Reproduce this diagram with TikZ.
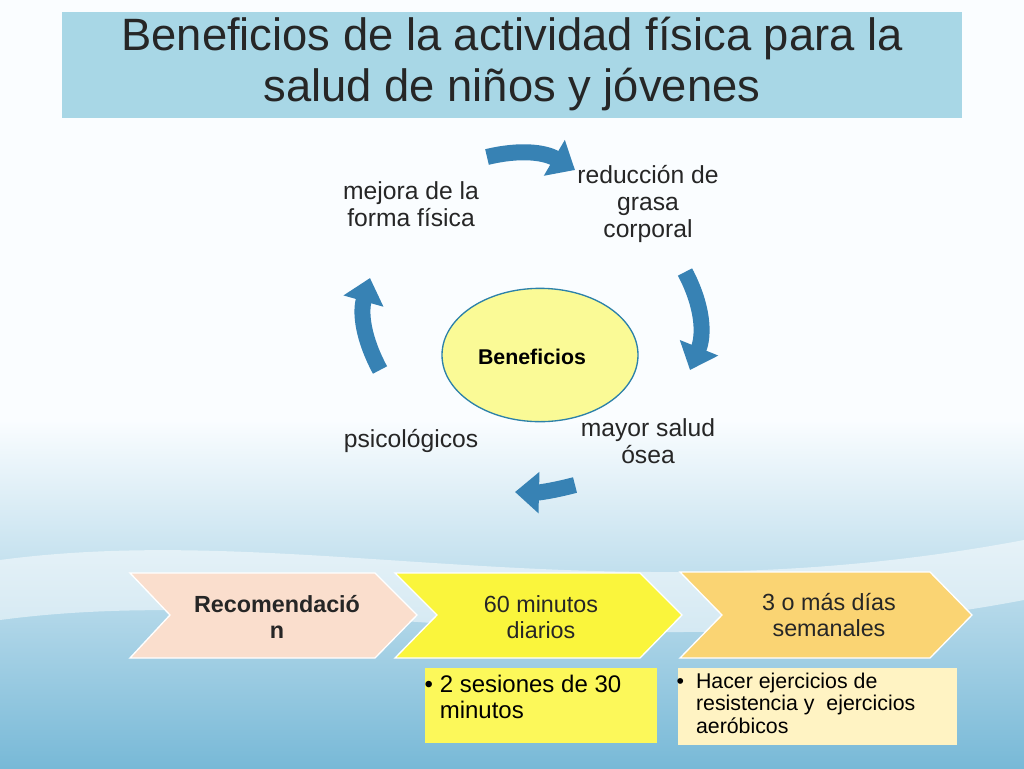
\documentclass[tikz,border=0pt]{standalone}
\usepackage{fontspec}
\setmainfont{Liberation Sans}
\usetikzlibrary{arrows.meta,shapes.geometric}
\definecolor{bgtop}{RGB}{250,253,255}
\definecolor{bgbot}{RGB}{120,185,215}
\definecolor{titlebg}{RGB}{168,215,230}
\definecolor{arrc}{RGB}{55,130,180}
\definecolor{ell}{RGB}{250,250,150}
\definecolor{chA}{RGB}{250,222,205}
\definecolor{chB}{RGB}{250,245,60}
\definecolor{chC}{RGB}{250,212,115}
\definecolor{bxB}{RGB}{252,248,90}
\definecolor{bxC}{RGB}{255,243,195}
\tikzset{
 px/.style={x=0.75pt,y=-0.75pt},
 lbl/.style={align=center,font=\fontsize{18.5}{20}\selectfont,text=black!85},
 clbl/.style={align=center,font=\fontsize{17.5}{20}\selectfont,text=black!85},
 carrow/.style={arrc,line width=12pt,-{Triangle[length=18pt,width=30pt]}},
 chev/.style={draw=white,line width=1pt},
}
\begin{document}
\begin{tikzpicture}[px]
\useasboundingbox (0,0) rectangle (1024,768);
\shade[top color=bgtop,bottom color=bgtop] (0,0) rectangle (1024,420);
\shade[top color=bgtop,bottom color=bgbot] (0,420) rectangle (1024,768);
\fill[white,opacity=0.5] (0,560) .. controls (300,520) and (600,620) .. (1024,540) -- (1024,600) .. controls (600,680) and (300,580) .. (0,620) -- cycle;
\node[fill=titlebg,minimum width=675pt,minimum height=79.5pt,anchor=north west] (title) at (62,12) {};
\node[align=center,font=\fontsize{34}{38}\selectfont,text=black!85] (tt) at (512,64) {Beneficios de la actividad física para la\\salud de niños y jóvenes};
% ellipse
\node[ellipse,draw=arrc!80!teal,fill=ell,line width=1pt,minimum width=147pt,minimum height=100pt] (ben) at (540,355) {};
\node[font=\bfseries\fontsize{16}{18}\selectfont] (bent) at (532,357) {Beneficios};
% labels
\node[lbl] (l1) at (648,204) {reducción de\\grasa\\corporal};
\node[lbl] (l2) at (648,441) {mayor salud\\ósea};
\node[lbl] (l3) at (411,441) {psicológicos};
\node[lbl] (l4) at (411,204) {mejora de la\\forma física};
% arrows
\coordinate (a1s) at (487,157); \coordinate (a1e) at (575,170);
\draw[carrow] (a1s) to[bend left=22] (a1e);
\coordinate (a2s) at (685,272); \coordinate (a2e) at (690,370);
\draw[carrow] (a2s) to[bend left=25] (a2e);
\coordinate (a3s) at (575,485); \coordinate (a3e) at (515,492);
\draw[carrow] (a3s) to[bend left=8] (a3e);
\coordinate (a4s) at (380,370); \coordinate (a4e) at (370,278);
\draw[carrow] (a4s) to[bend left=22] (a4e);
% chevrons
\fill[chA,chev] (130,573) -- (375,573) -- (417,615) -- (375,658) -- (130,658) -- (170,615) -- cycle;
\fill[chB,chev] (395,573) -- (640,573) -- (682,615) -- (640,658) -- (395,658) -- (437,615) -- cycle;
\fill[chC,chev] (680,572) -- (930,572) -- (972,615) -- (930,658) -- (680,658) -- (722,615) -- cycle;
\node[clbl,font=\bfseries\fontsize{17.5}{20}\selectfont] (c1) at (277,617) {Recomendació\\n};
\node[clbl] (c2) at (541,617) {60 minutos\\diarios};
\node[clbl] (c3) at (829,615) {3 o más días\\semanales};
% boxes
\fill[bxB] (425,668) rectangle (657,743);
\node[anchor=north west,align=left,font=\fontsize{18}{20}\selectfont] (b1) at (420,670) {•\ 2 sesiones de 30\\\phantom{•\ }minutos};
\fill[bxC] (678,668) rectangle (957,745);
\node[anchor=north west,align=left,font=\fontsize{16}{17}\selectfont] (b2) at (672,668) {•\ \ Hacer ejercicios de\\\phantom{•\ \ }resistencia y\ \ ejercicios\\\phantom{•\ \ }aeróbicos};
\end{tikzpicture}
\end{document}
